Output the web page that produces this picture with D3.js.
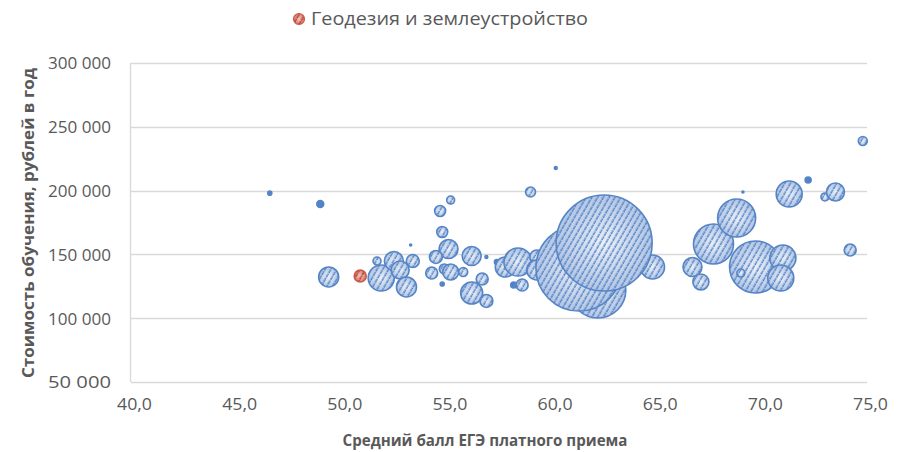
<!DOCTYPE html>
<html>
<head>
<meta charset="utf-8">
<title>Bubble chart</title>
<script src="https://cdn.jsdelivr.net/npm/d3@7/dist/d3.min.js"></script>
<style>
  body { margin: 0; background: #fff; }
  text { font-family: "Open Sans", "Noto Sans", sans-serif; fill: #595959; }
</style>
</head>
<body>
<script>
// ---- data ----
var scoreBlue = [46.6, 49.0, 49.4, 51.9, 51.7, 52.5, 52.8, 53.1, 53.4, 53.3,
  55.2, 54.7, 54.8, 55.1, 54.5, 54.3, 54.9, 55.2, 55.8, 54.8,
  56.2, 56.9, 56.2, 56.7, 56.9, 57.4, 59.0, 60.2, 57.8, 58.4,
  58.2, 58.6, 59.3, 59.3, 62.2, 61.3, 64.8, 62.5, 66.7, 67.1,
  67.7, 68.8, 69.7, 69.0, 71.0, 70.9, 69.1, 71.3, 72.2, 73.0,
  73.5, 74.2, 74.8];
var costBlue = [198000, 189500, 132300, 131500, 144800, 144800, 137800, 124500, 144800, 157400,
  192600, 184000, 167600, 154200, 148000, 135400, 138600, 136200, 136200, 126800,
  148700, 148000, 119700, 130700, 113500, 144000, 198900, 217700, 140100, 144000,
  126000, 126000, 148000, 137800, 122100, 139300, 140100, 158900, 140100, 128400,
  158200, 178500, 140100, 135400, 147200, 131500, 198900, 197300, 208300, 195000,
  198900, 153400, 238900];
var studentsBlue = [4, 12, 100, 170, 16, 90, 81, 100, 42, 1,
  16, 30, 30, 90, 42, 36, 25, 64, 20, 4,
  90, 2, 121, 36, 42, 6, 25, 2, 100, 196,
  9, 36, 49, 100, 784, 1850, 144, 2304, 90, 64,
  400, 361, 676, 16, 169, 169, 1, 169, 9, 16,
  81, 36, 20];

var scoreRed = [50.9];
var costRed = [133100];
var studentsRed = [36];
var legendName = "Геодезия и землеустройство";

var xTicks = [40, 45, 50, 55, 60, 65, 70, 75];
var yTicks = [50000, 100000, 150000, 200000, 250000, 300000];

// ---- drawing ----
var width = 898, height = 452;
var svg = d3.select("body").append("svg").attr("width", width).attr("height", height);

var xScale = d3.scaleLinear().domain([40, 75]).range([131, 867]);
var yScale = d3.scaleLinear().domain([50000, 300000]).range([382, 63]);
var rScale = d3.scaleSqrt().domain([0, 2304]).range([0, 48]);

var ru = d3.formatLocale({ decimal: ",", thousands: "\u00a0", grouping: [3], currency: ["", ""] });

var defs = svg.append("defs");
function makeFill(id, light, dark, line) {
  var g = defs.append("radialGradient").attr("id", id + "Grad").attr("cx", "50%").attr("cy", "50%").attr("r", "50%");
  g.append("stop").attr("offset", "0%").attr("stop-color", light);
  g.append("stop").attr("offset", "100%").attr("stop-color", dark);
  var p = defs.append("pattern").attr("id", id + "Hatch").attr("patternUnits", "userSpaceOnUse")
    .attr("width", 5).attr("height", 5).attr("patternTransform", "rotate(30)");
  p.append("line").attr("x1", 1.2).attr("y1", 0).attr("x2", 1.2).attr("y2", 5)
    .attr("stroke", line).attr("stroke-width", 1.4).attr("stroke-dasharray", "2,0.8");
}
makeFill("blue", "#eaf0f8", "#b3c6e5", "#4a7bc0");
makeFill("red", "#f3c9c1", "#d9776a", "#b03a2e");

// gridlines
svg.append("g").selectAll("line").data(yTicks).enter().append("line")
  .attr("x1", 131).attr("x2", 867)
  .attr("y1", function (d) { return Math.round(yScale(d)) + 0.5; })
  .attr("y2", function (d) { return Math.round(yScale(d)) + 0.5; })
  .attr("stroke", "#d9d9d9").attr("stroke-width", 1.3);
svg.append("line").attr("x1", 130.5).attr("x2", 130.5).attr("y1", yScale(300000)).attr("y2", yScale(50000))
  .attr("stroke", "#d9d9d9").attr("stroke-width", 1.3);

// axes labels
var yAxis = d3.axisLeft(yScale).tickValues(yTicks).tickSize(0).tickPadding(0).tickFormat(ru.format(","));
var gy = svg.append("g").attr("transform", "translate(111,0)").call(yAxis);
gy.select(".domain").remove();
gy.selectAll("text").style("font-size", "17px").attr("fill", "#595959").attr("dy", "0.35em")
  .attr("textLength", 63).attr("lengthAdjust", "spacingAndGlyphs");

var xAxis = d3.axisBottom(xScale).tickValues(xTicks).tickSize(0).tickPadding(0).tickFormat(ru.format(".1f"));
var gx = svg.append("g").attr("transform", "translate(3,398)").call(xAxis);
gx.select(".domain").remove();
gx.selectAll("text").style("font-size", "17px").attr("fill", "#595959")
  .attr("textLength", 35).attr("lengthAdjust", "spacingAndGlyphs");

svg.append("text").attr("x", 485).attr("y", 446).attr("text-anchor", "middle")
  .style("font-size", "15.5px").style("font-weight", "bold")
  .attr("textLength", 285).attr("lengthAdjust", "spacingAndGlyphs")
  .text("Средний балл ЕГЭ платного приема");
svg.append("text").attr("transform", "translate(34,223) rotate(-90)").attr("text-anchor", "middle")
  .style("font-size", "16px").style("font-weight", "bold")
  .attr("textLength", 310).attr("lengthAdjust", "spacingAndGlyphs")
  .text("Стоимость обучения, рублей в год");

// bubbles
function drawSeries(xs, ys, ss, id, edge) {
  var pts = xs.map(function (x, i) { return { x: x, y: ys[i], s: ss[i] }; });
  var g = svg.append("g").selectAll("g").data(pts).enter().append("g");
  g.append("circle")
    .attr("cx", function (d) { return xScale(d.x); })
    .attr("cy", function (d) { return yScale(d.y); })
    .attr("r", function (d) { return rScale(d.s); })
    .attr("fill", function (d) { return rScale(d.s) < 4 ? edge : "url(#" + id + "Grad)"; });
  g.append("circle")
    .attr("cx", function (d) { return xScale(d.x); })
    .attr("cy", function (d) { return yScale(d.y); })
    .attr("r", function (d) { return rScale(d.s); })
    .attr("fill", "url(#" + id + "Hatch)")
    .attr("stroke", edge).attr("stroke-width", 1.6);
}
drawSeries(scoreBlue, costBlue, studentsBlue, "blue", "#5585c6");
drawSeries(scoreRed, costRed, studentsRed, "red", "#c65b4c");

// legend
var lg = svg.append("g");
lg.append("circle").attr("cx", 299).attr("cy", 19).attr("r", 5.5).attr("fill", "url(#redGrad)");
lg.append("circle").attr("cx", 299).attr("cy", 19).attr("r", 5.5).attr("fill", "url(#redHatch)")
  .attr("stroke", "#c65b4c").attr("stroke-width", 1.2);
lg.append("text").attr("x", 311).attr("y", 25).style("font-size", "18px")
  .attr("textLength", 277).attr("lengthAdjust", "spacingAndGlyphs").text(legendName);
</script>
</body>
</html>
